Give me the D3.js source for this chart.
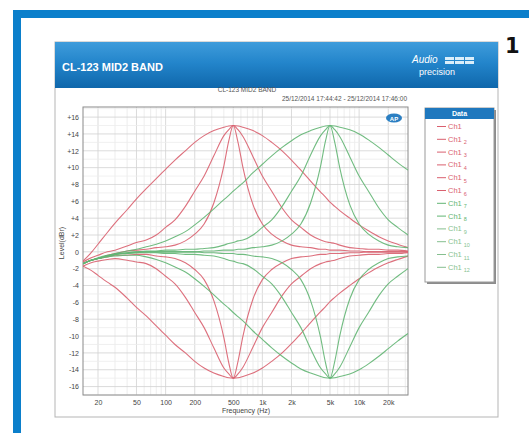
<!DOCTYPE html>
<html>
<head>
<meta charset="utf-8">
<script src="https://cdn.jsdelivr.net/npm/d3@7"></script>
<style>
  body { margin: 0; background: #fff; }
  svg { display: block; }
</style>
</head>
<body>
<svg id="chart" width="529" height="433"></svg>
<script>
// frequencies of the sweep points (Hz)
const freqs = [14, 17, 20, 25, 30, 40, 50, 63, 80, 100, 125, 160, 200, 250, 315, 400, 450, 500, 560, 630,
  800, 1000, 1250, 1600, 2000, 2500, 3150, 4000, 4500, 5000, 5600, 6300, 8000, 10000, 12500, 16000, 20000, 25000, 32000];

// levels (dBr)
const ch1 = [-1.1, -0.1, 0.9, 2.3, 3.4, 5.0, 6.3, 7.5, 8.7, 9.8, 10.9, 12.0, 13.0, 13.8, 14.4, 14.8, 14.95, 15.0, 14.95, 14.8,
  14.4, 13.8, 13.0, 12.0, 10.9, 9.7, 8.4, 7.1, 6.5, 5.9, 5.4, 4.9, 4.0, 3.2, 2.5, 1.8, 1.3, 0.9, 0.5];
const ch2 = [-1.2, -0.7, -0.4, 0.0, 0.2, 0.7, 1.1, 1.4, 2.0, 2.9, 3.8, 5.4, 7.2, 9.0, 11.4, 13.8, 14.5, 15.0, 14.5, 13.7,
  11.3, 9.0, 7.2, 5.2, 3.8, 2.9, 2.0, 1.4, 1.2, 1.1, 1.0, 0.8, 0.5, 0.4, 0.3, 0.3, 0.2, 0.2, 0.1];
const ch3 = [-1.4, -1.0, -0.8, -0.4, -0.2, 0.1, 0.2, 0.3, 0.5, 0.6, 0.8, 1.3, 2.1, 3.3, 5.8, 10.2, 13.2, 15.0, 13.0, 10.0,
  5.6, 3.3, 2.1, 1.3, 0.8, 0.6, 0.5, 0.3, 0.3, 0.2, 0.2, 0.2, 0.1, 0.1, 0.0, 0.0, 0.0, 0.0, 0.0];
const ch4 = [-1.7, -2.2, -2.8, -3.6, -4.2, -5.5, -6.6, -7.6, -8.8, -9.9, -11.0, -12.0, -13.0, -13.8, -14.4, -14.8, -14.95, -15.0, -14.95, -14.8,
  -14.4, -13.8, -13.0, -12.0, -10.9, -9.7, -8.4, -7.1, -6.5, -5.9, -5.4, -4.9, -4.0, -3.2, -2.5, -1.8, -1.3, -0.9, -0.5];
const ch5 = [-1.7, -1.3, -1.1, -0.9, -0.8, -1.0, -1.2, -1.4, -2.0, -2.9, -3.8, -5.4, -7.2, -9.0, -11.4, -13.8, -14.5, -15.0, -14.5, -13.7,
  -11.3, -9.0, -7.2, -5.2, -3.8, -2.9, -2.0, -1.4, -1.2, -1.1, -1.0, -0.8, -0.5, -0.4, -0.3, -0.3, -0.2, -0.2, -0.1];
const ch6 = [-1.4, -1.0, -0.8, -0.6, -0.4, -0.4, -0.3, -0.3, -0.5, -0.6, -0.8, -1.3, -2.1, -3.3, -5.8, -10.2, -13.2, -15.0, -13.0, -10.0,
  -5.6, -3.3, -2.1, -1.3, -0.8, -0.6, -0.5, -0.3, -0.3, -0.2, -0.2, -0.2, -0.1, -0.1, 0.0, 0.0, 0.0, 0.0, 0.0];
const ch7 = [-1.4, -1.0, -0.7, -0.4, -0.2, 0.1, 0.3, 0.6, 0.9, 1.3, 1.8, 2.4, 3.2, 4.1, 5.1, 6.2, 6.7, 7.2, 7.7, 8.2,
  9.4, 10.4, 11.4, 12.4, 13.2, 13.9, 14.4, 14.8, 14.95, 15.0, 14.95, 14.8, 14.5, 14.0, 13.3, 12.4, 11.5, 10.6, 9.7];
const ch8 = [-1.4, -1.0, -0.8, -0.5, -0.3, -0.1, 0.0, 0.1, 0.1, 0.2, 0.2, 0.3, 0.3, 0.4, 0.5, 0.8, 1.0, 1.1, 1.3, 1.4,
  2.0, 2.9, 3.8, 5.4, 7.2, 9.0, 11.5, 13.8, 14.5, 15.0, 14.5, 13.7, 11.3, 9.0, 7.2, 5.2, 3.8, 2.9, 2.0];
const ch9 = [-1.4, -1.0, -0.8, -0.5, -0.3, -0.1, 0.0, 0.0, 0.0, 0.0, 0.0, 0.0, 0.0, 0.1, 0.1, 0.2, 0.2, 0.2, 0.3, 0.3,
  0.5, 0.6, 0.8, 1.3, 2.1, 3.3, 5.8, 10.2, 13.2, 15.0, 13.0, 10.0, 5.6, 3.3, 2.1, 1.3, 0.8, 0.6, 0.5];
const ch10 = [-1.4, -1.0, -0.8, -0.6, -0.5, -0.4, -0.4, -0.6, -0.9, -1.3, -1.8, -2.4, -3.2, -4.1, -5.1, -6.2, -6.7, -7.2, -7.7, -8.2,
  -9.4, -10.4, -11.4, -12.4, -13.2, -13.9, -14.4, -14.8, -14.95, -15.0, -14.95, -14.8, -14.5, -14.0, -13.3, -12.4, -11.5, -10.6, -9.7];
const ch11 = [-1.4, -1.0, -0.8, -0.5, -0.3, -0.2, -0.1, -0.1, -0.1, -0.2, -0.2, -0.3, -0.3, -0.4, -0.5, -0.8, -1.0, -1.1, -1.3, -1.4,
  -2.0, -2.9, -3.8, -5.4, -7.2, -9.0, -11.5, -13.8, -14.5, -15.0, -14.5, -13.7, -11.3, -9.0, -7.2, -5.2, -3.8, -2.9, -2.0];
const ch12 = [-1.4, -1.0, -0.8, -0.5, -0.3, -0.2, -0.1, 0.0, 0.0, 0.0, 0.0, 0.0, 0.0, -0.1, -0.1, -0.2, -0.2, -0.2, -0.3, -0.3,
  -0.5, -0.6, -0.8, -1.3, -2.1, -3.3, -5.8, -10.2, -13.2, -15.0, -13.0, -10.0, -5.6, -3.3, -2.1, -1.3, -0.8, -0.6, -0.5];

const channels = [ch1, ch2, ch3, ch4, ch5, ch6, ch7, ch8, ch9, ch10, ch11, ch12];
const legendSubs = ['', '2', '3', '4', '5', '6', '7', '8', '9', '10', '11', '12'];

const yTicks = [16, 14, 12, 10, 8, 6, 4, 2, 0, -2, -4, -6, -8, -10, -12, -14, -16];
const xTicks = [20, 50, 100, 200, 500, 1000, 2000, 5000, 10000, 20000];
const xTickLabels = ['20', '50', '100', '200', '500', '1k', '2k', '5k', '10k', '20k'];

const RED = '#d9606f';
const GREEN = '#62b573';
const GREEN_LT = '#86bf8f';
const BLUE = '#0b7fcb';
const colorOf = i => (i < 6 ? RED : GREEN);
const legendColorOf = i => (i < 6 ? RED : i < 8 ? GREEN : GREEN_LT);

const svg = d3.select('#chart');
const font = 'Liberation Sans, Arial, sans-serif';

// рамка страницы
svg.append('rect').attr('x', 13).attr('y', 10).attr('width', 516).attr('height', 8).attr('fill', BLUE);
svg.append('rect').attr('x', 13).attr('y', 10).attr('width', 8).attr('height', 423).attr('fill', BLUE);

svg.append('text').attr('x', 505).attr('y', 53)
  .style('font-family', 'DejaVu Sans, sans-serif').style('font-weight', 'bold').style('font-size', '21px')
  .attr('fill', '#111').text('1');

// панель
const defs = svg.append('defs');
const grad = defs.append('linearGradient').attr('id', 'hdr').attr('x1', 0).attr('y1', 0).attr('x2', 0).attr('y2', 1);
grad.append('stop').attr('offset', '0%').attr('stop-color', '#3f9cdb');
grad.append('stop').attr('offset', '45%').attr('stop-color', '#2385cb');
grad.append('stop').attr('offset', '100%').attr('stop-color', '#0f67ab');

svg.append('rect').attr('x', 55).attr('y', 42).attr('width', 443).attr('height', 375)
  .attr('fill', '#fff').attr('stroke', '#b5b5b5');
svg.append('rect').attr('x', 55).attr('y', 42).attr('width', 443).attr('height', 46).attr('fill', 'url(#hdr)');

svg.append('text').attr('x', 62).attr('y', 71)
  .style('font-family', font).style('font-weight', 'bold').style('font-size', '11px')
  .attr('fill', '#fff').text('CL-123 MID2 BAND');

// логотип
const logo = svg.append('g').attr('fill', '#fff');
logo.append('text').attr('x', 412).attr('y', 63)
  .style('font-family', font).style('font-style', 'italic').style('font-size', '10px').text('Audio');
logo.append('text').attr('x', 419).attr('y', 74.5)
  .style('font-family', font).style('font-size', '9px').text('precision');
for (let r = 0; r < 2; r++) {
  for (let c = 0; c < 3; c++) {
    logo.append('rect').attr('x', 445 + c * 10).attr('y', 57 + r * 4).attr('width', 9).attr('height', 3)
      .attr('fill', '#dbeefa');
  }
}

// область графика
const plot = { left: 83, right: 408, top: 107, bottom: 395 };

const x = d3.scaleLog().domain([14, 32000]).range([plot.left, plot.right]);
const y = d3.scaleLinear().domain([-17, 17.2]).range([plot.bottom, plot.top]);

svg.append('text').attr('x', 247).attr('y', 92).attr('text-anchor', 'middle')
  .style('font-family', font).style('font-size', '6.5px').attr('fill', '#555').text('CL-123 MID2 BAND');
svg.append('text').attr('x', 407).attr('y', 101).attr('text-anchor', 'end')
  .style('font-family', font).style('font-size', '6.5px').attr('fill', '#555')
  .text('25/12/2014 17:44:42  -  25/12/2014 17:46:00');

// сетка
const grid = svg.append('g');
const minorX = [];
[10, 100, 1000, 10000].forEach(dec => {
  for (let m = 1; m < 10; m++) {
    const f = dec * m;
    if (f > 14 && f < 32000) minorX.push(f);
  }
});
grid.selectAll('.vx').data(minorX).enter().append('line')
  .attr('x1', d => x(d)).attr('x2', d => x(d))
  .attr('y1', plot.top).attr('y2', plot.bottom)
  .attr('stroke', d => (xTicks.includes(d) ? '#d2d2d2' : '#e8e8e8')).attr('stroke-width', 0.8);

const minorY = d3.range(-17, 18, 1);
grid.selectAll('.hy').data(minorY).enter().append('line')
  .attr('x1', plot.left).attr('x2', plot.right)
  .attr('y1', d => y(d)).attr('y2', d => y(d))
  .attr('stroke', d => (d % 2 === 0 ? '#d2d2d2' : '#ececec')).attr('stroke-width', 0.8);

svg.append('rect').attr('x', plot.left).attr('y', plot.top)
  .attr('width', plot.right - plot.left).attr('height', plot.bottom - plot.top)
  .attr('fill', 'none').attr('stroke', '#8a8a8a');

// оси
const yAxis = svg.append('g').attr('transform', `translate(${plot.left},0)`)
  .call(d3.axisLeft(y).tickValues(yTicks).tickSize(0).tickPadding(4)
    .tickFormat(d => (d > 0 ? '+' + d : String(d))));
const xAxis = svg.append('g').attr('transform', `translate(0,${plot.bottom})`)
  .call(d3.axisBottom(x).tickValues(xTicks).tickSize(0).tickPadding(5)
    .tickFormat((d, i) => xTickLabels[i]));
[yAxis, xAxis].forEach(a => {
  a.select('.domain').remove();
  a.selectAll('text').style('font-family', font).style('font-size', '7px').attr('fill', '#444');
});

svg.append('text').attr('x', 246).attr('y', 413).attr('text-anchor', 'middle')
  .style('font-family', font).style('font-size', '7px').attr('fill', '#444').text('Frequency (Hz)');
svg.append('text').attr('transform', 'translate(64,243) rotate(-90)').attr('text-anchor', 'middle')
  .style('font-family', font).style('font-size', '7px').attr('fill', '#444').text('Level(dBr)');

// кривые
defs.append('clipPath').attr('id', 'clip').append('rect')
  .attr('x', plot.left).attr('y', plot.top)
  .attr('width', plot.right - plot.left).attr('height', plot.bottom - plot.top);

const line = d3.line()
  .x(d => x(d[0]))
  .y(d => y(d[1]))
  .curve(d3.curveMonotoneX);

svg.append('g').attr('clip-path', 'url(#clip)')
  .selectAll('path').data(channels).enter().append('path')
  .attr('d', vals => line(freqs.map((f, i) => [f, vals[i]])))
  .attr('fill', 'none')
  .attr('stroke', (d, i) => colorOf(i))
  .attr('stroke-width', 1.1)
  .attr('stroke-opacity', 0.9);

// значок AP
svg.append('ellipse').attr('cx', 394).attr('cy', 118).attr('rx', 8).attr('ry', 4.5).attr('fill', '#2b7fc2');
svg.append('text').attr('x', 394).attr('y', 120.5).attr('text-anchor', 'middle')
  .style('font-family', font).style('font-weight', 'bold').style('font-size', '6px').attr('fill', '#fff').text('AP');

// легенда
const lg = { x: 425, y: 108, w: 69, h: 174 };
svg.append('rect').attr('x', lg.x + 2).attr('y', lg.y + 2).attr('width', lg.w).attr('height', lg.h).attr('fill', '#8c8c8c');
svg.append('rect').attr('x', lg.x).attr('y', lg.y).attr('width', lg.w).attr('height', lg.h)
  .attr('fill', '#fff').attr('stroke', '#9a9a9a');
svg.append('rect').attr('x', lg.x).attr('y', lg.y).attr('width', lg.w).attr('height', 11).attr('fill', '#1f78be');
svg.append('text').attr('x', lg.x + lg.w / 2).attr('y', lg.y + 8).attr('text-anchor', 'middle')
  .style('font-family', font).style('font-weight', 'bold').style('font-size', '7px').attr('fill', '#fff').text('Data');

const rows = svg.append('g').selectAll('g').data(legendSubs).enter().append('g')
  .attr('transform', (d, i) => `translate(${lg.x + 12},${lg.y + 21 + i * 12.8})`);
rows.append('line').attr('x1', 0).attr('x2', 9).attr('y1', -2.5).attr('y2', -2.5)
  .attr('stroke', (d, i) => legendColorOf(i)).attr('stroke-width', 1);
const lt = rows.append('text').attr('x', 11)
  .style('font-family', font).style('font-size', '7.5px')
  .attr('fill', (d, i) => legendColorOf(i));
lt.append('tspan').text('Ch1');
lt.append('tspan').attr('dx', 2).attr('dy', 2.5).style('font-size', '5.5px').text(d => d);
</script>
</body>
</html>
